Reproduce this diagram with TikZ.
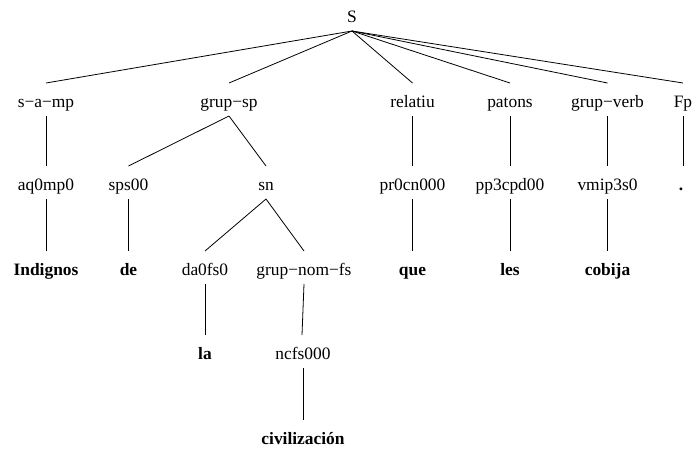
\documentclass[tikz,border=0pt]{standalone}
\usepackage{fontspec}
\setmainfont{Liberation Serif}
\newfontfamily\treefont{Liberation Serif}
\begin{document}
\begin{tikzpicture}[x=1pt,y=-1pt,
  tag/.style={anchor=base,inner sep=0pt,outer sep=0pt,
    text height=24pt,text depth=9pt,
    font=\treefont\fontsize{17.4}{20}\selectfont},
  word/.style={tag,font=\treefont\fontsize{17.4}{20}\selectfont\bfseries},
  edge/.style={line width=0.8pt}]
\useasboundingbox (0,0) rectangle (693,448);
% level 0
\node[tag] (S) at (352,22) {S};
% level 1
\node[tag] (samp)     at (46,107)    {s−a−mp};
\node[tag] (grupsp)   at (229,107)   {grup−sp};
\node[tag] (relatiu)  at (412.5,107) {relatiu};
\node[tag] (patons)   at (510,107)   {patons};
\node[tag] (grupverb) at (607.5,107) {grup−verb};
\node[tag] (Fp)       at (683,107)   {Fp};
% level 2
\node[tag] (aq)    at (46,190)    {aq0mp0};
\node[tag] (sps)   at (128.5,190) {sps00};
\node[tag] (sn)    at (266,190)   {sn};
\node[tag] (pr)    at (412.5,190) {pr0cn000};
\node[tag] (pp)    at (510,190)   {pp3cpd00};
\node[tag] (vmip)  at (607.5,190) {vmip3s0};
\node[word] (dot)  at (681,190)   {.};
\coordinate (dotTop) at (683,166);
% level 3
\node[word] (indignos) at (46,275)    {Indignos};
\node[word] (de)       at (128.5,275) {de};
\node[tag]  (da)       at (205,275)   {da0fs0};
\node[tag]  (gnom)     at (304,275)   {grup−nom−fs};
\node[word] (que)      at (412.5,275) {que};
\node[word] (les)      at (510,275)   {les};
\node[word] (cobija)   at (607.5,275) {cobija};
% level 4
\node[word] (la)  at (205,359) {la};
\node[tag]  (nc)  at (303,359) {ncfs000};
% level 5
\node[word] (civ) at (303,444) {civilización};
% branches
\foreach \c in {samp,grupsp,relatiu,patons,grupverb,Fp}
  \draw[edge] (S.south) -- (\c.north);
\draw[edge] (samp.south) -- (aq.north);
\draw[edge] (grupsp.south) -- (sps.north);
\draw[edge] (grupsp.south) -- (sn.north);
\draw[edge] (relatiu.south) -- (pr.north);
\draw[edge] (patons.south) -- (pp.north);
\draw[edge] (grupverb.south) -- (vmip.north);
\draw[edge] (Fp.south) -- (dotTop);
\draw[edge] (aq.south) -- (indignos.north);
\draw[edge] (sps.south) -- (de.north);
\draw[edge] (sn.south) -- (da.north);
\draw[edge] (sn.south) -- (gnom.north);
\draw[edge] (pr.south) -- (que.north);
\draw[edge] (pp.south) -- (les.north);
\draw[edge] (vmip.south) -- (cobija.north);
\draw[edge] (da.south) -- (la.north);
\draw[edge] (gnom.south) -- ([xshift=-1pt]nc.north);
\draw[edge] (nc.south) -- (civ.north);
\end{tikzpicture}
\end{document}
